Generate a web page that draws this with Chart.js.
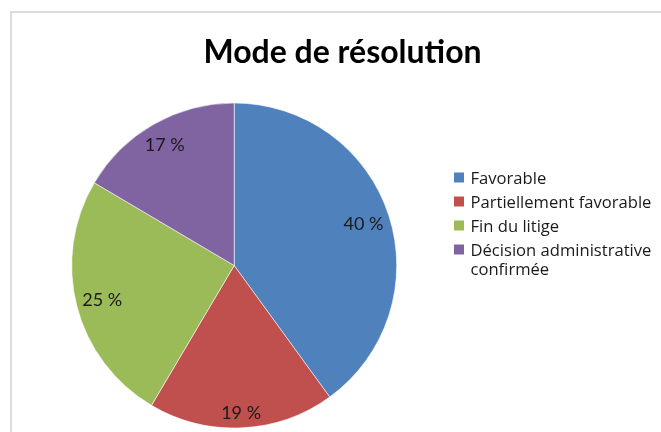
<!DOCTYPE html>
<html>
<head>
<meta charset="utf-8">
<script src="https://cdn.jsdelivr.net/npm/chart.js@4.4.1/dist/chart.umd.min.js"></script>
<style>
  html, body { margin: 0; padding: 0; background: #ffffff; }
  canvas { display: block; }
</style>
</head>
<body>
<canvas id="c" width="661" height="432"></canvas>
<script>
const chartTitle = "Mode de résolution";
const categories = ["Favorable", "Partiellement favorable", "Fin du litige", "Décision administrative confirmée"];
const legendLines = [["Favorable"], ["Partiellement favorable"], ["Fin du litige"], ["Décision administrative", "confirmée"]];
const values = [40, 18.5, 25, 16.5];
const colors = ["#4F81BD", "#C0504D", "#9BBB59", "#8064A2"];

const FONT = "Lato, 'Open Sans', sans-serif";
const LEGEND_FONT = "'Open Sans', Lato, sans-serif";

const decor = {
  id: 'decor',
  beforeDraw(chart) {
    const ctx = chart.ctx;
    ctx.save();
    ctx.fillStyle = '#ffffff';
    ctx.fillRect(0, 0, chart.width, chart.height);
    // frame
    ctx.fillStyle = '#DCDCDC';
    ctx.fillRect(10, 11, chart.width - 10, 2);
    ctx.fillRect(10, 11, 2, chart.height - 11);
    // title
    ctx.fillStyle = '#000000';
    ctx.font = "bold 32px " + FONT;
    ctx.textAlign = 'center';
    ctx.textBaseline = 'alphabetic';
    ctx.fillText(chartTitle, 342.5, 63);
    ctx.restore();
  },
  afterDraw(chart) {
    const ctx = chart.ctx;
    ctx.save();
    // data labels (inside end)
    const meta = chart.getDatasetMeta(0);
    const total = values.reduce((a, b) => a + b, 0);
    ctx.font = "18px " + FONT;
    ctx.fillStyle = '#1a1a1a';
    ctx.textAlign = 'center';
    ctx.textBaseline = 'middle';
    meta.data.forEach((arc, i) => {
      const txt = Math.round(values[i] / total * 100) + ' %';
      const mid = (arc.startAngle + arc.endAngle) / 2;
      const ux = Math.cos(mid), uy = Math.sin(mid);
      const w = ctx.measureText(txt).width, h = 16;
      const T = arc.outerRadius - 5;
      const a = Math.sign(ux) * w / 2, b = Math.sign(uy) * h / 2;
      const p = ux * a + uy * b;
      const d = -p + Math.sqrt(p * p - (a * a + b * b - T * T));
      ctx.fillText(txt, arc.x + d * ux, arc.y + d * uy + 1);
    });
    // legend
    ctx.font = "16.6px " + LEGEND_FONT;
    ctx.textAlign = 'left';
    ctx.textBaseline = 'alphabetic';
    let y = 177.5;
    legendLines.forEach((lines, i) => {
      ctx.fillStyle = colors[i];
      ctx.fillRect(454, y - 5, 10, 10);
      ctx.fillStyle = '#1a1a1a';
      lines.forEach((ln, j) => {
        ctx.fillText(ln, 470.5, y + 6 + j * 19.5);
      });
      y += 24;
    });
    ctx.restore();
  }
};

new Chart(document.getElementById('c'), {
  type: 'pie',
  data: {
    labels: categories,
    datasets: [{
      data: values,
      backgroundColor: colors,
      borderColor: 'rgba(255,255,255,0.55)',
      borderWidth: 1
    }]
  },
  options: {
    responsive: false,
    animation: false,
    radius: 162.5,
    layout: { padding: { left: 70, right: 262.6, top: 103, bottom: 4 } },
    plugins: {
      legend: { display: false },
      title: { display: false },
      tooltip: { enabled: false }
    }
  },
  plugins: [decor]
});
</script>
</body>
</html>
